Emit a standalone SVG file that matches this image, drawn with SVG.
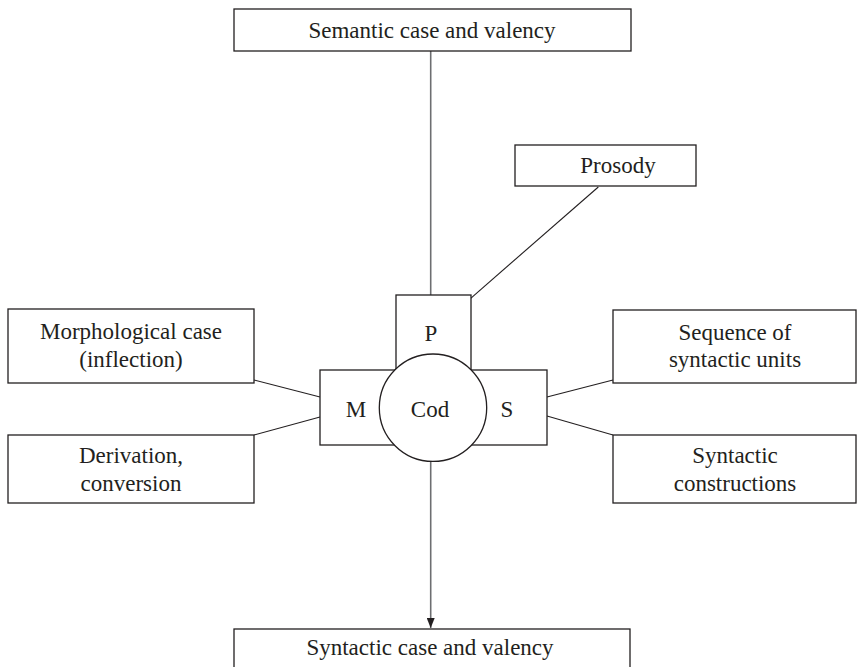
<svg xmlns="http://www.w3.org/2000/svg" width="858" height="667" viewBox="0 0 858 667">
<style>
.box{fill:#fff;stroke:#231f20;stroke-width:1.3}
.ln{stroke:#231f20;stroke-width:1.1;fill:none}
.vl{stroke:#6d6e71;stroke-width:1.6;fill:none}
text{font-family:"Liberation Serif","Times New Roman",serif;font-size:23px;fill:#231f20;text-anchor:middle}
</style>
<defs>
<marker id="arr" markerWidth="10" markerHeight="8" refX="10" refY="4" orient="auto" markerUnits="userSpaceOnUse">
<path d="M0,0 L10,4 L0,8 Z" fill="#231f20"/>
</marker>
</defs>
<g id="connectors">
<line class="vl" x1="430.7" y1="51" x2="430.7" y2="295"/>
<line class="ln" x1="470.7" y1="298.3" x2="598.3" y2="187"/>
<line class="ln" x1="254" y1="380" x2="320" y2="397"/>
<line class="ln" x1="254" y1="435" x2="320" y2="417"/>
<line class="ln" x1="547" y1="397" x2="613" y2="380"/>
<line class="ln" x1="547" y1="416" x2="613" y2="435"/>
<line class="vl" x1="430.7" y1="462" x2="430.7" y2="628" marker-end="url(#arr)"/>
</g>
<g id="semantic">
<rect class="box" x="234" y="9" width="397" height="42"/>
<text x="432" y="38">Semantic case and valency</text>
</g>
<g id="prosody">
<rect class="box" x="515" y="145" width="181" height="41"/>
<text x="618" y="173">Prosody</text>
</g>
<g id="morph">
<rect class="box" x="8" y="309" width="246" height="74"/>
<text x="131" y="339">Morphological case</text>
<text x="131" y="366.5">(inflection)</text>
</g>
<g id="derivation">
<rect class="box" x="8" y="435" width="246" height="68"/>
<text x="131" y="463">Derivation,</text>
<text x="131" y="490.5">conversion</text>
</g>
<g id="sequence">
<rect class="box" x="613" y="310" width="243" height="73"/>
<text x="735" y="340">Sequence of</text>
<text x="735" y="366.5">syntactic units</text>
</g>
<g id="constructions">
<rect class="box" x="613" y="435" width="243" height="68"/>
<text x="735" y="463">Syntactic</text>
<text x="735" y="490.5">constructions</text>
</g>
<g id="core">
<rect id="P" class="box" x="396" y="295" width="75" height="75"/>
<rect id="MS" class="box" x="320" y="370" width="227" height="75"/>
<circle id="Cod" class="box" cx="433" cy="407.7" r="53.7"/>
<text x="431" y="340.7">P</text>
<text x="356" y="416.7">M</text>
<text x="430" y="416.7">Cod</text>
<text x="507" y="416.7">S</text>
</g>
<g id="syntactic">
<rect class="box" x="234" y="629" width="396" height="50"/>
<text x="430" y="655">Syntactic case and valency</text>
</g>
</svg>
